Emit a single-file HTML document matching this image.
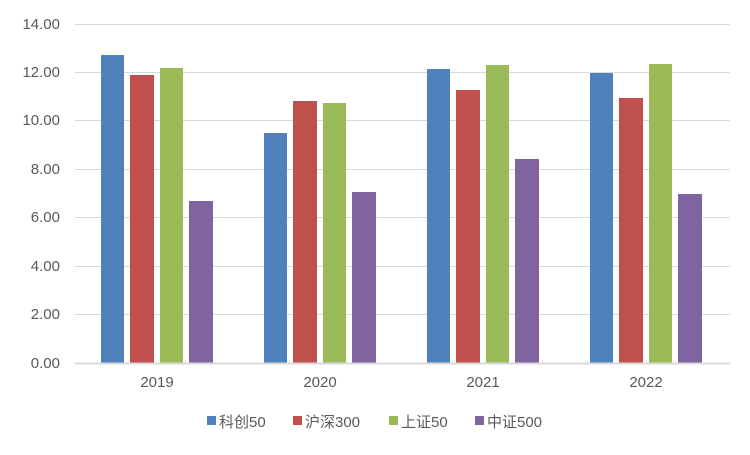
<!DOCTYPE html>
<html><head><meta charset="utf-8"><style>body{margin:0;background:#fff}svg text{font-family:"Liberation Sans","Noto Sans CJK SC",sans-serif;fill:#595959}</style></head><body>
<svg width="750" height="450" xmlns="http://www.w3.org/2000/svg">
<g stroke="#d9d9d9" stroke-width="1">
<line x1="75" x2="730" y1="24.5" y2="24.5"/><line x1="75" x2="730" y1="72.5" y2="72.5"/><line x1="75" x2="730" y1="120.5" y2="120.5"/><line x1="75" x2="730" y1="169.5" y2="169.5"/><line x1="75" x2="730" y1="217.5" y2="217.5"/><line x1="75" x2="730" y1="266.5" y2="266.5"/><line x1="75" x2="730" y1="314.5" y2="314.5"/>
</g>
<g font-size="15" text-anchor="end">
<text x="60" y="29">14.00</text><text x="60" y="77">12.00</text><text x="60" y="125">10.00</text><text x="60" y="174">8.00</text><text x="60" y="222">6.00</text><text x="60" y="271">4.00</text><text x="60" y="319">2.00</text><text x="60" y="368">0.00</text>
</g>
<g id="b">
<rect x="101" y="55" width="23" height="308" fill="#4f81bd"/>
<rect x="130" y="75" width="24" height="288" fill="#c0504d"/>
<rect x="160" y="68" width="23" height="295" fill="#9bbb59"/>
<rect x="189" y="201" width="24" height="162" fill="#8064a2"/>
<rect x="264" y="133" width="23" height="230" fill="#4f81bd"/>
<rect x="293" y="101" width="24" height="262" fill="#c0504d"/>
<rect x="323" y="103" width="23" height="260" fill="#9bbb59"/>
<rect x="352" y="192" width="24" height="171" fill="#8064a2"/>
<rect x="427" y="69" width="23" height="294" fill="#4f81bd"/>
<rect x="456" y="90" width="24" height="273" fill="#c0504d"/>
<rect x="486" y="65" width="23" height="298" fill="#9bbb59"/>
<rect x="515" y="159" width="24" height="204" fill="#8064a2"/>
<rect x="590" y="73" width="23" height="290" fill="#4f81bd"/>
<rect x="619" y="98" width="24" height="265" fill="#c0504d"/>
<rect x="649" y="64" width="23" height="299" fill="#9bbb59"/>
<rect x="678" y="194" width="24" height="169" fill="#8064a2"/>
</g>
<line x1="75" x2="730" y1="363.5" y2="363.5" stroke="#d9d9d9" stroke-width="2"/>
<g font-size="15" text-anchor="middle">
<text x="157" y="387">2019</text><text x="320" y="387">2020</text><text x="483" y="387">2021</text><text x="646" y="387">2022</text>
</g>
<g font-size="15">
<rect x="207" y="416" width="9" height="9" fill="#4f81bd"/><text x="219" y="427">科创50</text>
<rect x="293" y="416" width="9" height="9" fill="#c0504d"/><text x="305" y="427">沪深300</text>
<rect x="389" y="416" width="9" height="9" fill="#9bbb59"/><text x="401" y="427">上证50</text>
<rect x="475" y="416" width="9" height="9" fill="#8064a2"/><text x="487" y="427">中证500</text>
</g>
</svg>
</body></html>
